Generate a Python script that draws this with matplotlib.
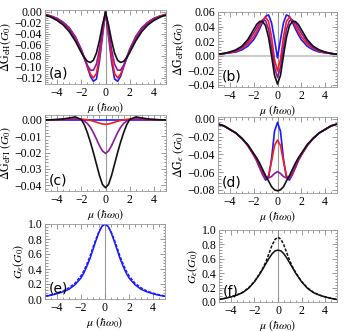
import matplotlib
matplotlib.use("Agg")
import matplotlib.pyplot as plt
from matplotlib.ticker import MultipleLocator, AutoMinorLocator

plt.rcParams['font.family'] = ['Liberation Serif', 'DejaVu Serif']
plt.rcParams['mathtext.fontset'] = 'stix'

# chemical potential grid (units of hbar*omega_0)
mu = [-5, -4.5, -4, -3.5, -3, -2.5, -2, -1.75, -1.5, -1.25, -1, -0.75, -0.5, -0.25, 0,
      0.25, 0.5, 0.75, 1, 1.25, 1.5, 1.75, 2, 2.5, 3, 3.5, 4, 4.5, 5]

# (a) Delta G_eH
a_blue = [-0.005, -0.008, -0.012, -0.019, -0.029, -0.045, -0.068, -0.083, -0.100, -0.117, -0.126, -0.122, -0.090, -0.045, 0.000,
          -0.045, -0.090, -0.122, -0.126, -0.117, -0.100, -0.083, -0.068, -0.045, -0.029, -0.019, -0.012, -0.008, -0.005]
a_red = [-0.005, -0.008, -0.013, -0.020, -0.030, -0.047, -0.070, -0.084, -0.099, -0.113, -0.120, -0.112, -0.082, -0.040, 0.000,
         -0.040, -0.082, -0.112, -0.120, -0.113, -0.099, -0.084, -0.070, -0.047, -0.030, -0.020, -0.013, -0.008, -0.005]
a_purple = [-0.006, -0.009, -0.014, -0.021, -0.032, -0.049, -0.072, -0.085, -0.097, -0.106, -0.106, -0.095, -0.068, -0.033, 0.000,
            -0.033, -0.068, -0.095, -0.106, -0.106, -0.097, -0.085, -0.072, -0.049, -0.032, -0.021, -0.014, -0.009, -0.006]
a_black = [-0.006, -0.010, -0.016, -0.024, -0.036, -0.053, -0.074, -0.083, -0.090, -0.092, -0.088, -0.075, -0.052, -0.024, -0.001,
           -0.024, -0.052, -0.075, -0.088, -0.092, -0.090, -0.083, -0.074, -0.053, -0.036, -0.024, -0.016, -0.010, -0.006]

# (b) Delta G_eFR
b_blue = [0.002, 0.003, 0.004, 0.005, 0.008, 0.013, 0.022, 0.029, 0.037, 0.046, 0.054, 0.056, 0.045, 0.022, -0.003,
          0.022, 0.045, 0.056, 0.054, 0.046, 0.037, 0.029, 0.022, 0.013, 0.008, 0.005, 0.004, 0.003, 0.002]
b_red = [0.002, 0.003, 0.004, 0.006, 0.010, 0.016, 0.026, 0.033, 0.041, 0.049, 0.053, 0.047, 0.026, -0.005, -0.021,
         -0.005, 0.026, 0.047, 0.053, 0.049, 0.041, 0.033, 0.026, 0.016, 0.010, 0.006, 0.004, 0.003, 0.002]
b_purple = [0.002, 0.003, 0.005, 0.007, 0.011, 0.019, 0.031, 0.038, 0.045, 0.049, 0.048, 0.036, 0.012, -0.016, -0.030,
            -0.016, 0.012, 0.036, 0.048, 0.049, 0.045, 0.038, 0.031, 0.019, 0.011, 0.007, 0.005, 0.003, 0.002]
b_black = [0.002, 0.003, 0.005, 0.008, 0.013, 0.022, 0.036, 0.043, 0.047, 0.047, 0.041, 0.025, 0.000, -0.027, -0.039,
           -0.027, 0.000, 0.025, 0.041, 0.047, 0.047, 0.043, 0.036, 0.022, 0.013, 0.008, 0.005, 0.003, 0.002]

# (c) Delta G_eFI
c_blue = [0.0, 0.0, 0.0, 0.0, 0.0, 0.0, 0.0, 0.0, 0.0, 0.0, 0.0, 0.0, 0.0, 0.0, 0.0,
          0.0, 0.0, 0.0, 0.0, 0.0, 0.0, 0.0, 0.0, 0.0, 0.0, 0.0, 0.0, 0.0, 0.0]
c_red = [0.0000, 0.0000, 0.0001, 0.0002, 0.0004, 0.0006, 0.0005, 0.0003, 0.0000, -0.0003, -0.0008, -0.0014, -0.0020, -0.0025, -0.0027,
         -0.0025, -0.0020, -0.0014, -0.0008, -0.0003, 0.0000, 0.0003, 0.0005, 0.0006, 0.0004, 0.0002, 0.0001, 0.0000, 0.0000]
c_purple = [0.0000, 0.0000, 0.0001, 0.0002, 0.0003, 0.0004, 0.0000, -0.0007, -0.0022, -0.0045, -0.0078, -0.0117, -0.0158, -0.0190, -0.0205,
            -0.0190, -0.0158, -0.0117, -0.0078, -0.0045, -0.0022, -0.0007, 0.0000, 0.0004, 0.0003, 0.0002, 0.0001, 0.0000, 0.0000]
c_black = [0.0000, 0.0001, 0.0003, 0.0006, 0.0012, 0.0018, 0.0003, -0.0030, -0.0078, -0.0135, -0.0200, -0.0270, -0.0340, -0.0395, -0.0415,
           -0.0395, -0.0340, -0.0270, -0.0200, -0.0135, -0.0078, -0.0030, 0.0003, 0.0018, 0.0012, 0.0006, 0.0003, 0.0001, 0.0000]

# (d) Delta G_e
d_blue = [-0.006, -0.008, -0.012, -0.016, -0.022, -0.030, -0.041, -0.047, -0.055, -0.063, -0.069, -0.066, -0.045, -0.014, -0.004,
          -0.014, -0.045, -0.066, -0.069, -0.063, -0.055, -0.047, -0.041, -0.030, -0.022, -0.016, -0.012, -0.008, -0.006]
d_red = [-0.006, -0.008, -0.012, -0.016, -0.022, -0.030, -0.041, -0.047, -0.055, -0.062, -0.067, -0.064, -0.048, -0.030, -0.024,
         -0.030, -0.048, -0.064, -0.067, -0.062, -0.055, -0.047, -0.041, -0.030, -0.022, -0.016, -0.012, -0.008, -0.006]
d_purple = [-0.006, -0.008, -0.012, -0.016, -0.022, -0.030, -0.040, -0.046, -0.054, -0.060, -0.066, -0.0665, -0.065, -0.0615, -0.0595,
            -0.0615, -0.065, -0.0665, -0.066, -0.060, -0.054, -0.046, -0.040, -0.030, -0.022, -0.016, -0.012, -0.008, -0.006]
d_black = [-0.006, -0.008, -0.012, -0.016, -0.022, -0.029, -0.039, -0.044, -0.050, -0.057, -0.064, -0.070, -0.0765, -0.080, -0.081,
           -0.080, -0.0765, -0.070, -0.064, -0.057, -0.050, -0.044, -0.039, -0.029, -0.022, -0.016, -0.012, -0.008, -0.006]

# (e) G_e, blue solid / dashed
e_solid = [0.035, 0.05, 0.07, 0.095, 0.13, 0.19, 0.28, 0.35, 0.44, 0.54, 0.66, 0.78, 0.89, 0.97, 1.00,
           0.97, 0.89, 0.78, 0.66, 0.54, 0.44, 0.35, 0.28, 0.19, 0.13, 0.095, 0.07, 0.05, 0.035]
e_dashed = [0.04, 0.056, 0.078, 0.105, 0.15, 0.21, 0.31, 0.38, 0.47, 0.57, 0.69, 0.80, 0.90, 0.97, 1.00,
            0.97, 0.90, 0.80, 0.69, 0.57, 0.47, 0.38, 0.31, 0.21, 0.15, 0.105, 0.078, 0.056, 0.04]

# (f) G_e, black solid / dashed
f_solid = [0.035, 0.05, 0.07, 0.095, 0.13, 0.19, 0.28, 0.34, 0.40, 0.47, 0.54, 0.61, 0.67, 0.71, 0.72,
           0.71, 0.67, 0.61, 0.54, 0.47, 0.40, 0.34, 0.28, 0.19, 0.13, 0.095, 0.07, 0.05, 0.035]
f_dashed = [0.036, 0.051, 0.072, 0.097, 0.135, 0.195, 0.285, 0.345, 0.41, 0.48, 0.57, 0.68, 0.79, 0.87, 0.90,
            0.87, 0.79, 0.68, 0.57, 0.48, 0.41, 0.345, 0.285, 0.195, 0.135, 0.097, 0.072, 0.051, 0.036]

BLUE = '#1a1aff'
RED = '#ff1a1a'
PURPLE = '#8c1a99'
BLACK = '#111111'
XLABEL = r'$\mu\ (\hbar\omega_0)$'

W, H = 346, 332
fig = plt.figure(figsize=(W / 100, H / 100), dpi=100)


# pixel box -> axes
def add_axes(left, top, right, bottom):
    return fig.add_axes([left / W, 1 - bottom / H, (right - left) / W, (bottom - top) / H])


def style(ax, ylim, ystep, ylabel, tag, fmt):
    ax.set_xlim(-5, 5)
    ax.set_ylim(*ylim)
    ax.xaxis.set_major_locator(MultipleLocator(2))
    ax.xaxis.set_minor_locator(AutoMinorLocator(4))
    ax.yaxis.set_major_locator(MultipleLocator(ystep))
    ax.yaxis.set_minor_locator(AutoMinorLocator(5))
    ax.yaxis.set_major_formatter(plt.FuncFormatter(lambda v, p: fmt.format(v).replace('-', '\u2212')))
    ax.xaxis.set_major_formatter(plt.FuncFormatter(lambda v, p: '{:g}'.format(v).replace('-', '\u2212')))
    ax.tick_params(which='both', direction='in', top=True, right=True, labelsize=8.5,
                   color='#888888', width=0.6, pad=2)
    ax.tick_params(which='major', length=3.5)
    ax.tick_params(which='minor', length=1.8)
    for s in ax.spines.values():
        s.set_color('#999999')
        s.set_linewidth(0.6)
    ax.set_ylabel(ylabel, fontsize=8.5, labelpad=1)
    ax.set_xlabel(XLABEL, fontsize=8.5, labelpad=1)
    ax.axvline(0, color='#999999', lw=0.8, zorder=0)
    ax.text(0.03, 0.05, tag, transform=ax.transAxes, fontsize=10,
            family='DejaVu Sans', ha='left', va='bottom')


ax = add_axes(45, 10, 166, 84)
for y, c in [(a_blue, BLUE), (a_red, RED), (a_purple, PURPLE), (a_black, BLACK)]:
    ax.plot(mu, y, color=c, lw=1.2)
style(ax, (-0.131, 0.003), 0.02, r'$\Delta\mathrm{G}_{\mathrm{eH}}(G_0)$', '(a)', '{:.2f}')

ax = add_axes(218, 12, 337, 87)
ax.axhline(0, color='#cccccc', lw=1.5, zorder=0)
for y, c in [(b_blue, BLUE), (b_red, RED), (b_purple, PURPLE), (b_black, BLACK)]:
    ax.plot(mu, y, color=c, lw=1.2)
style(ax, (-0.043, 0.06), 0.02, r'$\Delta\mathrm{G}_{\mathrm{eFR}}(G_0)$', '(b)', '{:.2f}')

ax = add_axes(45, 115, 166, 191)
for y, c in [(c_blue, BLUE), (c_red, RED), (c_purple, PURPLE), (c_black, BLACK)]:
    ax.plot(mu, y, color=c, lw=1.2)
style(ax, (-0.0435, 0.003), 0.01, r'$\Delta\mathrm{G}_{\mathrm{eFI}}\ (G_0)$', '(c)', '{:.2f}')

ax = add_axes(218, 117, 337, 193)
for y, c in [(d_blue, BLUE), (d_red, RED), (d_purple, PURPLE), (d_black, BLACK)]:
    ax.plot(mu, y, color=c, lw=1.2)
style(ax, (-0.0835, 0.002), 0.02, r'$\Delta\mathrm{G}_{e}\ (G_0)$', '(d)', '{:.2f}')

ax = add_axes(45, 224, 165, 299)
ax.plot(mu, e_solid, color=BLUE, lw=1.1)
ax.plot(mu, e_dashed, color=BLUE, lw=1.1, dashes=(2, 1))
style(ax, (0, 1.0), 0.2, r'$G_e(G_0)$', '(e)', '{:.1f}')

ax = add_axes(219, 230, 337, 302)
ax.plot(mu, f_solid, color=BLACK, lw=1.1)
ax.plot(mu, f_dashed, color=BLACK, lw=1.1, dashes=(2, 1))
style(ax, (0, 1.0), 0.2, r'$G_e(G_0)$', '(f)', '{:.1f}')

fig.savefig('out.png', dpi=100)
